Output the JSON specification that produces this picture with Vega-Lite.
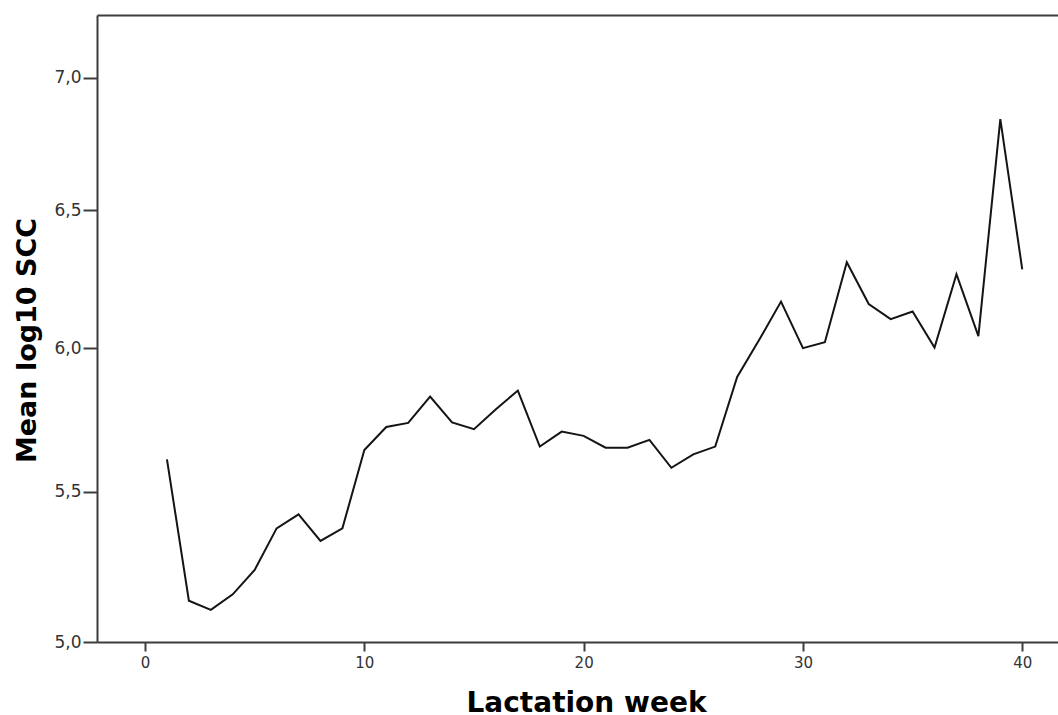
{
  "$schema": "https://vega.github.io/schema/vega-lite/v6.json",
  "autosize": {"type": "none"},
  "width": 961,
  "height": 627,
  "padding": {"left": 97, "top": 15, "right": 0, "bottom": 73},
  "background": "white",
  "config": {
    "view": {"stroke": null},
    "font": "Liberation Sans"
  },
  "data": {
    "values": [
      {"week": 1, "scc": 5.611},
      {"week": 2, "scc": 5.135},
      {"week": 3, "scc": 5.105},
      {"week": 4, "scc": 5.156},
      {"week": 5, "scc": 5.237},
      {"week": 6, "scc": 5.376},
      {"week": 7, "scc": 5.423},
      {"week": 8, "scc": 5.334},
      {"week": 9, "scc": 5.376},
      {"week": 10, "scc": 5.643},
      {"week": 11, "scc": 5.723},
      {"week": 12, "scc": 5.737},
      {"week": 13, "scc": 5.829},
      {"week": 14, "scc": 5.739},
      {"week": 15, "scc": 5.715},
      {"week": 16, "scc": 5.785},
      {"week": 17, "scc": 5.850},
      {"week": 18, "scc": 5.655},
      {"week": 19, "scc": 5.707},
      {"week": 20, "scc": 5.692},
      {"week": 21, "scc": 5.651},
      {"week": 22, "scc": 5.651},
      {"week": 23, "scc": 5.678},
      {"week": 24, "scc": 5.582},
      {"week": 25, "scc": 5.628},
      {"week": 26, "scc": 5.655},
      {"week": 27, "scc": 5.898},
      {"week": 28, "scc": 6.029},
      {"week": 29, "scc": 6.167},
      {"week": 30, "scc": 6.000},
      {"week": 31, "scc": 6.021},
      {"week": 32, "scc": 6.310},
      {"week": 33, "scc": 6.158},
      {"week": 34, "scc": 6.104},
      {"week": 35, "scc": 6.131},
      {"week": 36, "scc": 6.002},
      {"week": 37, "scc": 6.266},
      {"week": 38, "scc": 6.043},
      {"week": 39, "scc": 6.843},
      {"week": 40, "scc": 6.284}
    ]
  },
  "layer": [
    {
      "mark": {"type": "line", "color": "#141414", "strokeWidth": 2},
      "encoding": {
        "x": {
          "field": "week", "type": "quantitative",
          "scale": {"domain": [-2.19, 41.63], "nice": false, "zero": false},
          "axis": {
            "title": "Lactation week",
            "values": [0, 10, 20, 30, 40],
            "grid": false,
            "domainColor": "#3c3c3c", "domainWidth": 2,
            "tickColor": "#3c3c3c", "tickWidth": 2, "tickSize": 9,
            "labelFont": "DejaVu Sans", "labelFontSize": 15, "labelColor": "#333333", "labelPadding": 4,
            "titleFont": "DejaVu Sans", "titleFontSize": 28, "titleFontWeight": "bold",
            "titleColor": "#000000",
            "titleX": 489, "titleY": 69, "titleBaseline": "alphabetic", "titleAnchor": null
          }
        },
        "y": {
          "field": "scc", "type": "quantitative",
          "scale": {"type": "sqrt", "domain": [5, 7.2442], "nice": false, "zero": false},
          "axis": {
            "title": "Mean log10 SCC",
            "values": [5, 5.5, 6, 6.5, 7],
            "labelExpr": "replace(format(datum.value, '.1f'), '.', ',')",
            "grid": false,
            "domainColor": "#3c3c3c", "domainWidth": 2,
            "tickColor": "#3c3c3c", "tickWidth": 2, "tickSize": 14,
            "labelFont": "DejaVu Sans", "labelFontSize": 17, "labelColor": "#333333", "labelPadding": 2,
            "titleFont": "DejaVu Sans", "titleFontSize": 27, "titleFontWeight": "bold",
            "titleColor": "#000000",
            "titleY": 325, "titlePadding": 12
          }
        }
      }
    },
    {
      "mark": {"type": "point", "opacity": 0},
      "encoding": {
        "x": {
          "field": "week", "type": "quantitative",
          "axis": {
            "orient": "top", "title": null, "labels": false, "ticks": false,
            "grid": false, "domainColor": "#3c3c3c", "domainWidth": 2
          }
        },
        "y": {"field": "scc", "type": "quantitative"}
      }
    }
  ],
  "resolve": {"axis": {"x": "independent"}}
}
